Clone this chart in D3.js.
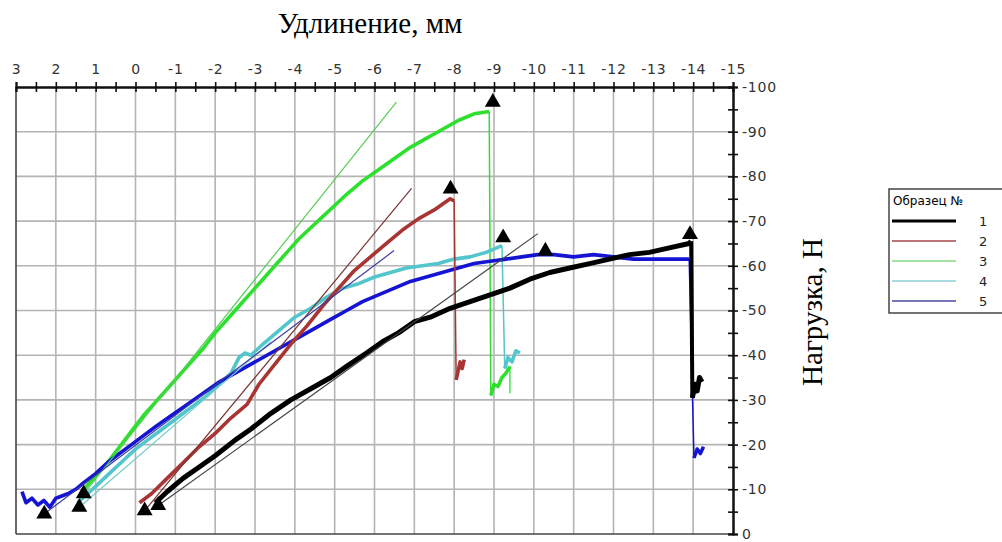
<!DOCTYPE html>
<html>
<head>
<meta charset="utf-8">
<script src="https://cdn.jsdelivr.net/npm/d3@7"></script>
<style>
  body { margin:0; background:#fff; }
  svg { display:block; }
</style>
</head>
<body>
<div id="chart"></div>
<script>
// ---- данные (x - удлинение, мм; y - нагрузка, Н)
var xTicks = d3.range(3, -15.01, -0.5);
var yTicks = d3.range(0, 100.01, 5);

// образец 1
var s1x = [-0.5,-0.8,-1.2,-1.6,-2.0,-2.5,-2.9,-3.4,-3.9,-4.4,-4.9,-5.3,-5.8,-6.2,-6.6,-7.0,-7.4,-7.9,-8.4,-8.9,-9.4,-9.9,-10.4,-10.9,-11.4,-11.9,-12.4,-12.9,-13.4,-13.9,-13.95];
var s1y = [7,9.5,12.5,15,17.5,21,23.5,27,30,32.5,35,37.5,40.5,43,45,47.5,48.5,50.5,52,53.5,55,57,58.5,59.5,60.5,61.5,62.5,63,64,65,65.5];
var s1tx = [-13.98,-14.05,-14.1,-14.16,-14.22];
var s1ty = [30.5,33.5,32,35,34];
// образец 2
var s2x = [-0.1,-0.4,-0.8,-1.2,-1.6,-2.0,-2.4,-2.8,-3.1,-3.5,-3.9,-4.3,-4.7,-5.1,-5.5,-5.9,-6.3,-6.7,-7.1,-7.5,-7.9,-8.0];
var s2y = [7,9,12.5,16,19.5,22.5,26,29,33.5,38,42.5,46.5,51,55,59,62,65,68,70.5,72.5,75,74.5];
var s2tx = [-8.05,-8.1,-8.15,-8.2,-8.25];
var s2ty = [34.5,36.5,38.5,37,39];
// образец 3
var s3x = [1.3,1.0,0.7,0.4,0.1,-0.2,-0.5,-0.8,-1.1,-1.4,-1.7,-2.0,-2.3,-2.6,-2.9,-3.2,-3.5,-3.8,-4.1,-4.4,-4.7,-5.0,-5.3,-5.7,-6.1,-6.5,-6.9,-7.3,-7.7,-8.1,-8.5,-8.88];
var s3y = [10,13,16,19.5,23,26.5,29.5,32.5,35.5,38.5,41.5,45,48,51,54,57,60,63,66,68.5,71,73.5,76,79,81.5,84,86.5,88.5,90.5,92.5,94,94.5];
var s3tx = [-8.92,-9.0,-9.1,-9.2,-9.3,-9.4];
var s3ty = [31,33.5,33,35,36,37.5];
// образец 4
var s4x = [1.45,1.2,0.9,0.6,0.3,0.0,-0.3,-0.6,-0.9,-1.2,-1.5,-1.8,-2.1,-2.4,-2.6,-2.75,-2.9,-3.2,-3.6,-4.0,-4.4,-4.8,-5.2,-5.6,-6.0,-6.4,-6.8,-7.2,-7.6,-8.0,-8.4,-8.8,-9.2];
var s4y = [7,9,11.5,14,16.5,19,21,23,25,27,29,31,33.5,36,39.5,40.5,40,42.5,45.5,48.5,50.5,53,55,56,57.5,58.5,59.5,60,60.5,61.5,62,63,64.5];
var s4tx = [-9.27,-9.35,-9.45,-9.55,-9.65];
var s4ty = [37,39.5,38.5,41,40.5];
// образец 5
var s5x = [2.85,2.75,2.6,2.45,2.3,2.15,2.0,1.85,1.7,1.5,1.3,1.0,0.7,0.4,0.1,-0.2,-0.5,-0.9,-1.3,-1.7,-2.1,-2.5,-2.9,-3.3,-3.7,-4.1,-4.5,-4.9,-5.3,-5.7,-6.1,-6.5,-6.9,-7.3,-7.7,-8.1,-8.5,-8.9,-9.3,-9.7,-10.1,-10.5,-11.0,-11.5,-12.0,-12.5,-13.0,-13.5,-13.9];
var s5y = [9.5,7,8,6.5,7.5,6,8,8.5,9,10,11.5,13.5,16,18,20,22,24,26.5,29,31.5,34,36,38,40,42,44,46,48,50,52,53.5,55,56.5,57.5,58.5,59.5,60.5,61,61.5,62,62.5,62.5,62,62.5,62,61.5,61.5,61.5,61.5];
var s5tx = [-14.02,-14.1,-14.18,-14.26];
var s5ty = [17,19,18,19.5];

// касательные (начало и конец)
var tanX0 = [-0.57,-0.23,1.30,1.41,2.29];
var tanY0 = [6.4,5.2,9.0,6.0,4.5];
var tanX1 = [-10.1,-6.93,-6.55,-3.4,-6.49];
var tanY1 = [67.2,77.3,96.6,43,63.4];

// маркеры: начало и максимум
var startX = [-0.57,-0.23,1.30,1.41,2.29];
var startY = [6.4,5.2,9.0,6.0,4.5];
var peakX = [-13.92,-7.91,-8.97,-9.23,-10.29];
var peakY = [67.0,77.2,96.6,66.3,63.3];

var names = ["1","2","3","4","5"];
var colors = ["#000000","#a83434","#2ee02e","#52c6cc","#1414d2"];
var tanColors = ["#444444","#7a3434","#56cc56","#74cccc","#3c3ca0"];
var legColors = ["#000000","#a04848","#86d886","#8ccfd6","#4a4aa0"];

var series = [
  {x:s1x, y:s1y, tx:s1tx, ty:s1ty, w:5},
  {x:s2x, y:s2y, tx:s2tx, ty:s2ty, w:3.6},
  {x:s3x, y:s3y, tx:s3tx, ty:s3ty, w:3.6},
  {x:s4x, y:s4y, tx:s4tx, ty:s4ty, w:3.6},
  {x:s5x, y:s5y, tx:s5tx, ty:s5ty, w:3.6}
];
var drawOrder = [2, 3, 4, 1, 0];

var svg = d3.select("#chart").append("svg")
    .attr("width", 1002)
    .attr("height", 542)
    .attr("xmlns", "http://www.w3.org/2000/svg");

var L = 16, R = 733, T = 87, B = 534;
var x = d3.scaleLinear().domain([3, -15]).range([L, R]);
var y = d3.scaleLinear().domain([0, 100]).range([B, T]);

// сетка
svg.append("g").selectAll("line")
    .data(d3.range(2, -15, -1))
    .enter().append("line")
    .attr("x1", function(d){ return x(d); }).attr("x2", function(d){ return x(d); })
    .attr("y1", T).attr("y2", B)
    .style("stroke", "#b4b4b4").style("stroke-width", 1.6);
svg.append("g").selectAll("line")
    .data(d3.range(10, 100, 10))
    .enter().append("line")
    .attr("x1", L).attr("x2", R)
    .attr("y1", function(d){ return y(d); }).attr("y2", function(d){ return y(d); })
    .style("stroke", "#b4b4b4").style("stroke-width", 1.6);

// рамка слева и снизу
svg.append("line").attr("x1", L).attr("x2", L).attr("y1", T).attr("y2", B)
    .style("stroke", "#444").style("stroke-width", 1.6);
svg.append("line").attr("x1", L).attr("x2", R).attr("y1", B).attr("y2", B)
    .style("stroke", "#444").style("stroke-width", 1.6);

var line = d3.line()
    .x(function(d){ return x(d[0]); })
    .y(function(d){ return y(d[1]); });

// кривые, обрыв тонкой линией, хвост после разрыва
drawOrder.forEach(function(i) {
  var s = series[i];
  var pts = d3.zip(s.x, s.y);
  var tail = d3.zip(s.tx, s.ty);
  var last = pts[pts.length-1];
  svg.append("path")
     .attr("d", line([last, tail[0]]))
     .style("fill", "none")
     .style("stroke", colors[i])
     .style("stroke-width", i == 0 ? 4 : 1.5);
  svg.append("path")
     .attr("d", line(tail))
     .style("fill", "none")
     .style("stroke", colors[i])
     .style("stroke-width", s.w)
     .style("stroke-linejoin", "round");
  svg.append("path")
     .attr("d", line(pts))
     .style("fill", "none")
     .style("stroke", colors[i])
     .style("stroke-width", s.w)
     .style("stroke-linejoin", "round");
});
// зелёный хвост заканчивается тонким спуском
svg.append("path")
   .attr("d", line([[s3tx[s3tx.length-1], s3ty[s3ty.length-1]], [s3tx[s3tx.length-1], 31.5]]))
   .style("stroke", colors[2]).style("stroke-width", 1.3).style("fill", "none");

// касательные поверх кривых
svg.append("g").selectAll("line")
    .data(d3.range(5))
    .enter().append("line")
    .attr("x1", function(i){ return x(tanX0[i]); })
    .attr("y1", function(i){ return y(tanY0[i]); })
    .attr("x2", function(i){ return x(tanX1[i]); })
    .attr("y2", function(i){ return y(tanY1[i]); })
    .style("stroke", function(i){ return tanColors[i]; })
    .style("stroke-width", 1.2);

// треугольники
var tri = d3.symbol().type(d3.symbolTriangle).size(110);
var marks = d3.zip(startX, startY).concat(d3.zip(peakX, peakY));
svg.append("g").selectAll("path")
    .data(marks)
    .enter().append("path")
    .attr("d", tri)
    .attr("transform", function(d){ return "translate(" + x(d[0]) + "," + y(d[1]) + ")"; })
    .style("fill", "#000");

// оси: верхняя и правая, засечки насквозь
var fmtX = function(d){ return Number.isInteger(d) ? String(d) : ""; };
var fmtY = function(d){ return d % 10 == 0 ? (d == 0 ? "0" : "-" + d) : ""; };

var ax1 = svg.append("g").attr("transform", "translate(0," + T + ")")
    .call(d3.axisTop(x).tickValues(xTicks).tickSize(5).tickPadding(8).tickFormat(fmtX));
var ax2 = svg.append("g").attr("transform", "translate(0," + T + ")")
    .call(d3.axisBottom(x).tickValues(xTicks).tickSize(5).tickFormat(""));
var ay1 = svg.append("g").attr("transform", "translate(" + R + ",0)")
    .call(d3.axisRight(y).tickValues(yTicks).tickSize(5).tickPadding(4).tickFormat(fmtY));
var ay2 = svg.append("g").attr("transform", "translate(" + R + ",0)")
    .call(d3.axisLeft(y).tickValues(yTicks).tickSize(5).tickFormat(""));

[ax1, ax2, ay1, ay2].forEach(function(a) {
  a.select(".domain").style("stroke", "#111").style("stroke-width", 2);
  a.selectAll(".tick line").style("stroke", "#111").style("stroke-width", 1.6);
  a.selectAll("text").style("font-family", "'DejaVu Sans', Verdana, sans-serif")
   .style("font-size", "14px").style("letter-spacing", "0.8px").style("fill", "#333");
});

// подписи осей
svg.append("text")
   .attr("x", 370).attr("y", 33)
   .attr("text-anchor", "middle")
   .style("font-family", "'Liberation Serif', 'Times New Roman', serif")
   .style("font-size", "29px")
   .text("Удлинение, мм");
svg.append("text")
   .attr("transform", "translate(822,312) rotate(-90)")
   .attr("text-anchor", "middle")
   .style("font-family", "'Liberation Serif', 'Times New Roman', serif")
   .style("font-size", "29px")
   .text("Нагрузка, Н");

// легенда
var lg = svg.append("g").attr("transform", "translate(889,189)");
lg.append("rect")
  .attr("x", 0).attr("y", 0).attr("width", 130).attr("height", 124)
  .style("fill", "#fff").style("stroke", "#444").style("stroke-width", 1.5);
lg.append("text").attr("x", 4).attr("y", 16)
  .style("font-family", "'DejaVu Sans', Verdana, sans-serif").style("font-size", "12px")
  .text("Образец №");
var items = lg.selectAll("g.item").data(names).enter().append("g")
  .attr("transform", function(d, i){ return "translate(0," + (32 + i * 20) + ")"; });
items.append("line").attr("x1", 3).attr("x2", 67).attr("y1", 0).attr("y2", 0)
  .style("stroke", function(d, i){ return legColors[i]; })
  .style("stroke-width", function(d, i){ return i == 0 ? 3 : 1.6; });
items.append("text").attr("x", 90).attr("y", 5)
  .style("font-family", "'DejaVu Sans', Verdana, sans-serif").style("font-size", "13px")
  .style("fill", "#222")
  .text(function(d){ return d; });
</script>
</body>
</html>
